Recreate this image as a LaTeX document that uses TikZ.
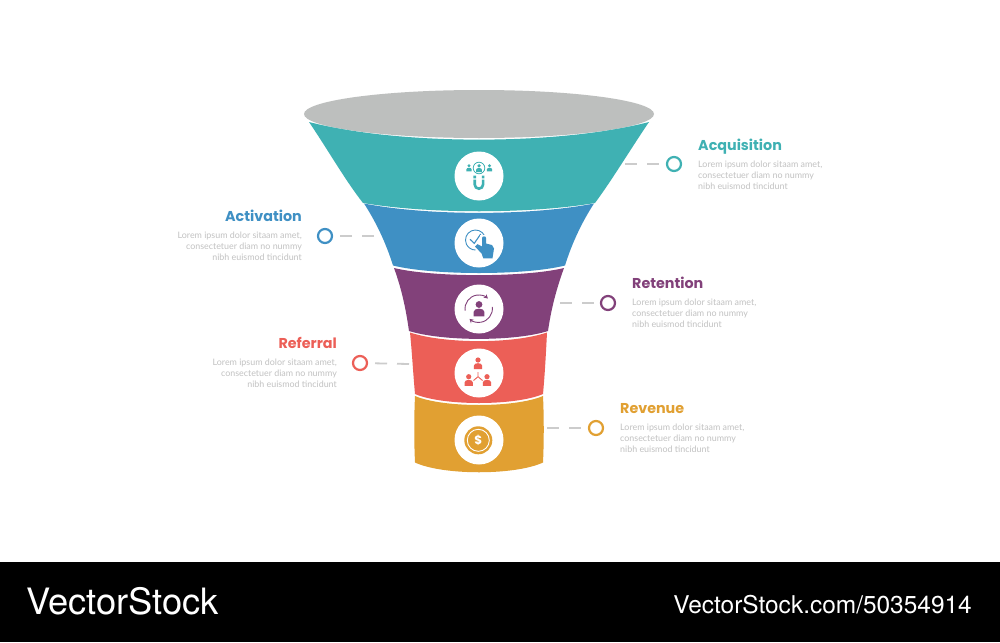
\documentclass[tikz,border=0pt]{standalone}
\usepackage{fontspec}
\usetikzlibrary{arrows.meta}
\setmainfont{Poppins}
\newfontfamily\wmfont{TeX Gyre Heros}
\newfontfamily\bodyfont{Lato}
\definecolor{cTeal}{HTML}{3FB1B3}
\definecolor{cBlue}{HTML}{3F90C4}
\definecolor{cPurple}{HTML}{82417A}
\definecolor{cRed}{HTML}{EC5F57}
\definecolor{cOrange}{HTML}{E1A032}
\definecolor{cGrey}{HTML}{BDBFBE}
\definecolor{cDash}{HTML}{CCCCCC}
\definecolor{cText}{HTML}{C2C2C2}
\tikzset{
  x=1pt,y=-1pt,
  badge/.style={circle,fill=white,minimum size=49pt,inner sep=0pt,draw=none},
  ringnode/.style={circle,draw=#1,line width=2.2pt,minimum size=14pt,inner sep=0pt,fill=white},
  leader/.style={cDash,line width=1.8pt,dash pattern=on 12pt off 10pt},
  headr/.style={font=\fontsize{14.3}{16}\selectfont\bfseries,text=#1,inner sep=0pt},
  bodyr/.style={font=\bodyfont\fontsize{8.9}{11}\selectfont,text=cText,inner sep=0pt,align=right,anchor=north east},
  bodyl/.style={font=\bodyfont\fontsize{8.9}{11}\selectfont,text=cText,inner sep=0pt,align=left,anchor=north west},
  seg/.style={fill=#1,draw=none},
}
% person: head centre (#1,#2), scale #3, colour #4
\newcommand{\person}[4]{%
  \fill[#4] (#1,#2) circle[radius=#3*1.0];
  \fill[#4] ({#1-1.6*#3},{#2+3.5*#3}) -- ({#1-1.6*#3},{#2+2.2*#3}) .. controls ({#1-1.6*#3},{#2+0.9*#3}) and ({#1+1.6*#3},{#2+0.9*#3}) .. ({#1+1.6*#3},{#2+2.2*#3}) -- ({#1+1.6*#3},{#2+3.5*#3}) -- cycle;
}
\begin{document}
\begin{tikzpicture}
\useasboundingbox (0,0) rectangle (1000,642);
\fill[white] (0,0) rectangle (1000,642);
\fill[black] (0,562) rectangle (1000,642);

% funnel
\fill[cGrey] (479,114) ellipse[x radius=175,y radius=24];
\fill[seg=cTeal] (309,122) .. controls (400,145.5) and (558,145.5) .. (649,122)
  .. controls (630,150) and (612,180) .. (595,203)
  .. controls (530,214) and (428,214) .. (363,203)
  .. controls (345,180) and (328,150) .. (309,122) -- cycle;
\fill[seg=cBlue] (364,203.5) .. controls (428,216) and (530,216) .. (594,203.5)
  .. controls (582,222) and (572,243) .. (565,265.5)
  .. controls (525,275.5) and (433,275.5) .. (393,265.5)
  .. controls (386,243) and (376,222) .. (364,203.5) -- cycle;
\fill[seg=cPurple] (394,268) .. controls (433,277.5) and (525,277.5) .. (564,268)
  .. controls (556,290) and (551,310) .. (548,331)
  .. controls (515,341.5) and (443,341.5) .. (409,331)
  .. controls (406,310) and (402,290) .. (394,268) -- cycle;
\fill[seg=cRed] (410,332.5) .. controls (445,344) and (513,344) .. (547,332.5)
  .. controls (546,352) and (545,372) .. (543,394)
  .. controls (515,406) and (443,406) .. (415,394)
  .. controls (413,372) and (412,352) .. (410,332.5) -- cycle;
\fill[seg=cOrange] (415,396) .. controls (443,408) and (515,408) .. (543,396)
  .. controls (544,417) and (544,442) .. (543,462.5)
  .. controls (515,475.5) and (443,475.5) .. (415,462.5)
  .. controls (414,442) and (414,417) .. (415,396) -- cycle;

% badges
\node[badge] (b1) at (479,176) {};
\node[badge] (b2) at (479,243) {};
\node[badge] (b3) at (479,309) {};
\node[badge] (b4) at (479,373) {};
\node[badge] (b5) at (479,440) {};

% icon 1: people and magnet
\draw[cTeal,line width=0.8pt] (479,168) circle[radius=5.8];
\person{479}{165.8}{1.8}{cTeal}
\person{469}{165.8}{1.6}{cTeal}
\person{489.5}{165.8}{1.6}{cTeal}
\draw[cTeal,line width=2.6pt] (474.7,179.5) -- (474.7,184.5) arc[start angle=180,end angle=0,radius=4.2] -- (483.1,179.5);
\fill[cTeal] (473.4,175.5) rectangle (476,178.3) (481.8,175.5) rectangle (484.4,178.3);

% icon 2: check and hand
\draw[cBlue,line width=0.9pt] (475.5,240) ++(-25:10) arc[start angle=-25,end angle=-270,radius=10];
\draw[cBlue,line width=1.1pt] (470,239.3) -- (474.3,243.3) -- (480.7,234);
\fill[white] (479.5,235) rectangle (488,246);
\fill[cBlue] (482,238) .. controls (482,235.8) and (486,235.8) .. (486,238) -- (486,243.5) -- (492,245) -- (494,248.5) -- (492.5,258.3) -- (483.3,258.3) -- (481.5,253.3) -- (475,246.7) -- (477.5,244.2) -- (482,246.5) -- cycle;

% icon 3: cycle with person
\draw[cPurple,line width=0.9pt,-{Stealth[length=4pt,width=4.5pt]}] (478.7,308.7) ++(172:13.7) arc[start angle=172,end angle=312,radius=13.7];
\draw[cPurple,line width=0.9pt,-{Stealth[length=4pt,width=4.5pt]}] (478.7,308.7) ++(-8:13.7) arc[start angle=-8,end angle=132,radius=13.7];
\person{479}{304.5}{3.4}{cPurple}

% icon 4: referral tree
\person{478}{360}{2.6}{cRed}
\person{468.7}{376.7}{2.6}{cRed}
\person{487}{376.7}{2.6}{cRed}
\draw[cRed,line width=0.9pt] (478,372) -- (478,376.7) -- (473.5,380.5) (478,376.7) -- (482.5,380.5);

% icon 5: coin
\fill[cOrange] (478.3,440.3) circle[radius=14];
\draw[white,line width=0.9pt] (478.3,440.3) circle[radius=11];
\node[inner sep=0pt,text=white,font=\fontsize{12}{12}\selectfont\bfseries] (dollar) at (478.3,440.3) {\$};

% anchors on the funnel
\coordinate (a1) at (625,164);
\coordinate (a2) at (374,236);
\coordinate (a3) at (560,303);
\coordinate (a4) at (409,364);
\coordinate (a5) at (547,428);

% rings
\node[ringnode=cTeal] (r1) at (674,164) {};
\node[ringnode=cBlue] (r2) at (325,236) {};
\node[ringnode=cPurple] (r3) at (608,303) {};
\node[ringnode=cRed] (r4) at (360,363) {};
\node[ringnode=cOrange] (r5) at (596,428) {};

\draw[leader] (a1) -- (r1);
\draw[leader] (a2) -- (r2);
\draw[leader] (a3) -- (r3);
\draw[leader] (a4) -- (r4);
\draw[leader] (a5) -- (r5);

% labels
\node[headr=cTeal,anchor=west] (t1) at (698,146.5) {Acquisition};
\node[bodyl] (d1) at (698,161) {Lorem ipsum dolor sitaam amet,\\consectetuer diam no nummy\\nibh euismod tincidunt};
\node[headr=cBlue,anchor=east] (t2) at (302,215.7) {Activation};
\node[bodyr] (d2) at (302,232) {Lorem ipsum dolor sitaam amet,\\consectetuer diam no nummy\\nibh euismod tincidunt};
\node[headr=cPurple,anchor=west] (t3) at (632,282.7) {Retention};
\node[bodyl] (d3) at (632,299) {Lorem ipsum dolor sitaam amet,\\consectetuer diam no nummy\\nibh euismod tincidunt};
\node[headr=cRed,anchor=east] (t4) at (337,342.7) {Referral};
\node[bodyr] (d4) at (337,359) {Lorem ipsum dolor sitaam amet,\\consectetuer diam no nummy\\nibh euismod tincidunt};
\node[headr=cOrange,anchor=west] (t5) at (620,408.5) {Revenue};
\node[bodyl] (d5) at (620,424) {Lorem ipsum dolor sitaam amet,\\consectetuer diam no nummy\\nibh euismod tincidunt};

% watermark
\node[anchor=west,inner sep=0pt,text=white,font=\wmfont\fontsize{36.3}{38}\selectfont] (wm1) at (26,601) {VectorStock};
\node[anchor=east,inner sep=0pt,text=white,font=\wmfont\fontsize{24.45}{26}\selectfont] (wm2) at (972,605) {VectorStock.com/50354914};
\end{tikzpicture}
\end{document}
